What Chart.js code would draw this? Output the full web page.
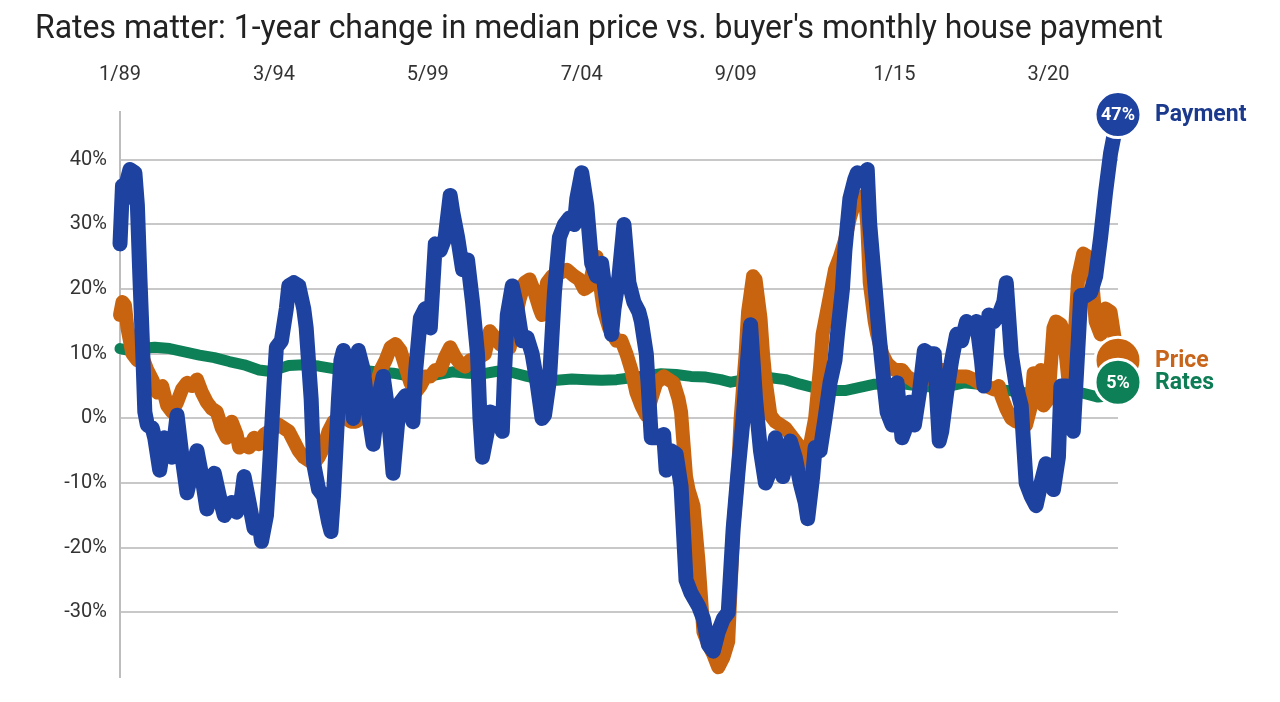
<!DOCTYPE html>
<html>
<head>
<meta charset="utf-8">
<script src="https://cdn.jsdelivr.net/npm/chart.js@4.4.1/dist/chart.umd.min.js"></script>
<style>
  html, body { margin: 0; padding: 0; background: #fff; }
  #wrap { width: 1280px; height: 702px; }
</style>
</head>
<body>
<div id="wrap"><canvas id="houseChart" width="1280" height="702"></canvas></div>
<script>
// month index: 0 = 1/89
const tickMonths = [0, 62, 124, 186, 248, 312, 374];
const tickLabels = ['1/89', '3/94', '5/99', '7/04', '9/09', '1/15', '3/20'];
const yTicks = [-30, -20, -10, 0, 10, 20, 30, 40];

// [month, % change]
const payment = [
    [0, 27], [1, 36], [2, 34], [3, 37], [4, 38.5], [6, 38], [7, 33], [8, 22], [9, 12], [10, 1],
    [11, -1], [13, -1.5], [14, -3], [16, -8], [18, -3], [20, -4], [21, -6], [23, 0.5], [25, -6], [27, -11.5],
    [29, -8], [31, -5], [33, -9], [35, -14], [37, -11], [38, -8.5], [40, -12], [42, -15], [45, -13], [47, -14.5],
    [49, -12], [50, -9], [52, -13], [54, -17], [56, -16], [57, -19], [59, -15], [60, -9], [61, -2], [62, 5],
    [63, 11], [65, 12], [67, 17], [68, 20.5], [70, 21], [72, 20.5], [74, 17], [75, 14], [77, 3], [78, -7],
    [80, -11], [82, -12], [84, -16], [85, -17.5], [86, -12], [88, 3], [89, 9], [90, 10.5], [92, 8], [94, 0],
    [95, 7], [96, 10.5], [98, 7.5], [100, 1], [102, -4], [104, 3], [106, 6.5], [108, 1], [110, -8.5], [112, 0],
    [113, 2.5], [115, 3.5], [117, 1], [118, -0.5], [119, 7], [121, 15.5], [123, 17], [125, 14], [127, 27], [129, 26],
    [131, 28], [133, 34.5], [134, 32], [136, 28], [138, 23], [140, 24.5], [142, 18], [144, 10], [145, 0], [146, -6],
    [148, -2], [149, 1], [152, 0.5], [154, -2], [155, 8], [156, 16], [158, 20.5], [160, 17], [162, 12], [164, 12.5],
    [166, 10], [168, 5.5], [170, 0], [171, 0.5], [173, 6], [175, 19.5], [177, 28], [179, 30], [181, 31], [183, 30],
    [184, 34], [186, 38], [188, 33], [190, 24], [192, 22], [194, 24], [196, 18], [198, 13], [199, 17], [201, 22],
    [203, 30], [205, 21], [207, 18], [209, 16.5], [210, 15], [212, 10], [214, -3], [216, -3], [219, -2.5], [220, -8],
    [222, -5], [224, -5.5], [226, -10.5], [228, -25], [230, -27], [233, -29], [235, -31], [237, -35], [239, -36], [241, -33],
    [243, -31], [245, -30], [247, -17], [249, -8], [251, 0], [253, 10], [254, 14.5], [256, 3], [258, -5], [260, -10],
    [262, -8], [264, -3], [266, -7], [267, -9], [269, -6], [270, -3.5], [272, -6], [274, -10], [276, -13], [277, -15.5],
    [279, -9], [280, -4.5], [282, -5], [284, 0], [286, 5.5], [288, 9], [289, 13], [291, 20], [292, 26], [294, 34],
    [296, 37], [297, 38], [299, 37], [301, 38.5], [302, 30], [304, 21], [306, 12], [308, 4.5], [309, 1], [311, -1],
    [313, 5.5], [315, -3], [316, -2], [318, 2.5], [320, -1], [322, 4], [324, 10.5], [326, 10], [328, 10], [330, -3.5],
    [331, -2], [333, 4], [335, 9], [337, 13], [339, 12], [341, 15], [343, 14], [345, 15], [347, 9], [348, 5],
    [350, 16], [352, 15], [354, 16], [356, 18], [357, 21], [359, 10], [361, 5], [363, 2], [365, -10], [367, -12],
    [369, -13.5], [371, -10], [373, -7], [375, -9], [376, -11], [378, -6], [379, 5], [381, 5], [383, 2], [384, -2],
    [385, 5], [387, 19], [389, 19], [391, 19.5], [393, 22], [395, 28], [397, 35], [399, 41], [402, 47]
];

const price = [
    [0, 16], [1, 18], [2, 17.5], [3, 14], [5, 10], [7, 9], [9, 9.5], [11, 7.5], [13, 6], [15, 4],
    [17, 5], [19, 2], [21, 1], [23, 2.5], [25, 4.5], [27, 5.5], [29, 5], [31, 6], [33, 4], [35, 2.5],
    [37, 1.5], [39, 1], [41, -1.5], [43, -3], [45, -0.5], [47, -2.5], [48, -4.5], [50, -4], [52, -4.5], [54, -3],
    [56, -4], [58, -2.5], [60, -2], [62, -1.5], [64, -1], [66, -1.5], [68, -2], [70, -3.5], [72, -5], [74, -6],
    [76, -6.5], [78, -7], [80, -6], [82, -4.5], [84, -2], [86, -0.5], [88, 0], [91, 0], [93, -0.5], [95, -0.5],
    [97, 0], [99, 0.5], [101, 3], [103, 5], [105, 7.5], [107, 9], [109, 11], [111, 11.5], [113, 10.5], [115, 8],
    [117, 5.5], [119, 4], [121, 5], [123, 6.5], [125, 6.5], [127, 7.5], [129, 7.5], [131, 9.5], [133, 11], [135, 9.5],
    [137, 8.5], [139, 8], [141, 9], [143, 8.5], [145, 9.5], [147, 10], [149, 13.5], [151, 12.5], [153, 11.5], [155, 11],
    [157, 11], [159, 15], [161, 18.5], [163, 21], [165, 21.5], [167, 19.5], [169, 17], [170, 16], [172, 21], [174, 22],
    [177, 22.5], [180, 23], [183, 22], [185, 21.5], [187, 20], [189, 20.5], [191, 24], [192, 25], [194, 19], [195, 16.5],
    [197, 14], [200, 12], [202, 12], [204, 10], [206, 7.5], [208, 4], [210, 2], [212, 0.5], [214, 3], [216, 5.5],
    [219, 6.5], [221, 6], [223, 5.5], [225, 3], [226, 1], [228, -9], [229, -11], [231, -13.5], [233, -22], [235, -33],
    [237, -35], [239, -36.5], [241, -38.5], [243, -37], [245, -34.5], [247, -17], [249, -8], [250, 0], [252, 10], [253, 16.5],
    [255, 22], [256, 21.5], [258, 15.5], [259, 10], [260, 6], [262, 0.5], [264, -0.5], [266, -1], [268, -1.5], [270, -2.5],
    [272, -3.5], [274, -4.5], [276, -7], [278, -4], [280, 0], [282, 8], [283, 13], [285, 17], [286, 19], [288, 23],
    [290, 25], [292, 27.5], [294, 31], [296, 33.5], [298, 34], [300, 34.5], [301, 30], [302, 21], [304, 15], [305, 13],
    [307, 10], [309, 8.5], [312, 7.5], [315, 7.5], [317, 6.5], [319, 6], [321, 5.5], [323, 5.5], [325, 6.5], [327, 7.5],
    [330, 7.5], [332, 7.5], [334, 7], [337, 6.5], [339, 6.5], [341, 6.5], [344, 6], [346, 5.5], [349, 5], [352, 4.5],
    [354, 5], [355, 3.5], [357, 1.5], [359, 0], [361, -0.5], [363, -0.5], [365, -1], [367, 2], [368, 7], [370, 6.5],
    [371, 7.5], [372, 2], [374, 3], [376, 14], [377, 15], [379, 14.5], [380, 13.5], [382, 6], [384, 9], [386, 22],
    [388, 25.5], [390, 25], [391, 24], [393, 15], [395, 13], [397, 17], [399, 16.5], [402, 9]
];

const rates = [
    [0, 10.8], [4, 10.5], [8, 10.8], [14, 11], [20, 10.8], [26, 10.3], [32, 9.8], [38, 9.4], [44, 8.8], [50, 8.3],
    [56, 7.5], [60, 7.3], [64, 7.7], [68, 8.2], [74, 8.3], [80, 8.1], [86, 7.7], [92, 7.6], [98, 7.4], [104, 7.2],
    [110, 7], [116, 6.6], [122, 6.4], [128, 6.8], [134, 7.2], [140, 7], [146, 6.9], [152, 7.3], [158, 7.1], [164, 6.5],
    [170, 6], [176, 5.9], [182, 6.1], [188, 6], [194, 5.9], [200, 6], [206, 6.3], [212, 6.6], [218, 6.9], [224, 6.8],
    [230, 6.5], [236, 6.4], [242, 6], [246, 5.6], [250, 5.9], [256, 6.4], [262, 6.3], [268, 6], [274, 5.3], [280, 4.7],
    [286, 4.3], [292, 4.3], [298, 4.8], [304, 5.3], [310, 5.4], [316, 5.3], [322, 5], [328, 4.8], [334, 5], [340, 5.5],
    [346, 5.3], [352, 4.6], [358, 4.3], [364, 4], [370, 3.8], [376, 3.8], [382, 3.9], [388, 3.9], [394, 3.3], [398, 3.5],
    [402, 5.6]
];

const seriesNames = ['Payment', 'Price', 'Rates'];
const seriesColors = ['#1E42A0', '#C8640F', '#0E8058'];
const labelColors = ['#1B3A8E', '#C8651A', '#0E7D56'];
const badgeText = ['47%', '', '5%'];

const TITLE = "Rates matter: 1-year change in median price vs. buyer's monthly house payment";

////////////////////////////////////////////////////////////////////////////////

// title across the top, squeezed a bit like the condensed original
const titlePlugin = {
    id: 'titleText',
    afterDraw(chart) {
        const ctx = chart.ctx;
        ctx.save();
        ctx.font = '34px Roboto';
        ctx.fillStyle = '#222';
        ctx.textBaseline = 'alphabetic';
        const w = ctx.measureText(TITLE).width;
        const target = 1128;
        ctx.translate(35, 38);
        ctx.scale(target / w, 1);
        ctx.fillText(TITLE, 0, 0);
        ctx.restore();
    }
};

// round badges + names at the end of each line
const endLabels = {
    id: 'endLabels',
    afterDatasetsDraw(chart) {
        const ctx = chart.ctx;
        // price first so the rates badge sits on top of it
        [1, 2, 0].forEach(i => {
            const meta = chart.getDatasetMeta(i);
            const pt = meta.data[meta.data.length - 1];
            ctx.save();
            ctx.beginPath();
            ctx.arc(pt.x, pt.y, 23, 0, Math.PI * 2);
            ctx.fillStyle = seriesColors[i];
            ctx.fill();
            ctx.lineWidth = 3;
            ctx.strokeStyle = '#fff';
            ctx.stroke();

            ctx.textBaseline = 'middle';
            if (badgeText[i]) {
                ctx.font = 'bold 18px Roboto';
                ctx.fillStyle = '#fff';
                ctx.textAlign = 'center';
                ctx.fillText(badgeText[i], pt.x, pt.y + 1);
            }
            ctx.font = 'bold 23px Roboto';
            ctx.fillStyle = labelColors[i];
            ctx.textAlign = 'left';
            ctx.fillText(seriesNames[i], pt.x + 37, pt.y + 1);
            ctx.restore();
        });
    }
};

const toPoints = arr => arr.map(p => ({ x: p[0], y: p[1] }));

const lineStyle = (i, width) => ({
    label: seriesNames[i],
    borderColor: seriesColors[i],
    backgroundColor: seriesColors[i],
    borderWidth: width,
    borderJoinStyle: 'round',
    borderCapStyle: 'round',
    pointRadius: 0,
    tension: 0,
    clip: false
});

const ctx = document.getElementById('houseChart').getContext('2d');

const houseChart = new Chart(ctx, {
    type: 'line',
    data: {
        datasets: [
            { ...lineStyle(0, 15), data: toPoints(payment) },
            { ...lineStyle(1, 14), data: toPoints(price) },
            { ...lineStyle(2, 11), data: toPoints(rates) }
        ]
    },
    options: {
        responsive: false,
        animation: false,
        devicePixelRatio: 1,
        layout: {
            padding: { top: 0, right: 162, bottom: 22, left: 0 }
        },
        plugins: {
            legend: { display: false },
            tooltip: { enabled: false }
        },
        scales: {
            x: {
                type: 'linear',
                position: 'top',
                min: 0,
                max: 402,
                grid: { display: false, drawTicks: false },
                border: { display: false },
                afterBuildTicks: scale => {
                    scale.ticks = tickMonths.map(v => ({ value: v }));
                },
                afterFit: scale => {
                    scale.height = 112;
                },
                ticks: {
                    autoSkip: false,
                    maxRotation: 0,
                    padding: 25,
                    color: '#333',
                    font: { family: 'Roboto', size: 20 },
                    callback: value => tickLabels[tickMonths.indexOf(value)]
                }
            },
            y: {
                min: -40,
                max: 47.4,
                grid: { color: '#c8c8c8', lineWidth: 2, drawTicks: false },
                border: { color: '#bdbdbd', width: 2 },
                afterBuildTicks: scale => {
                    scale.ticks = yTicks.map(v => ({ value: v }));
                },
                afterFit: scale => {
                    scale.width = 120;
                },
                ticks: {
                    padding: 13,
                    color: '#333',
                    font: { family: 'Roboto', size: 20 },
                    callback: value => value + '%'
                }
            }
        }
    },
    plugins: [titlePlugin, endLabels]
});
</script>
</body>
</html>
